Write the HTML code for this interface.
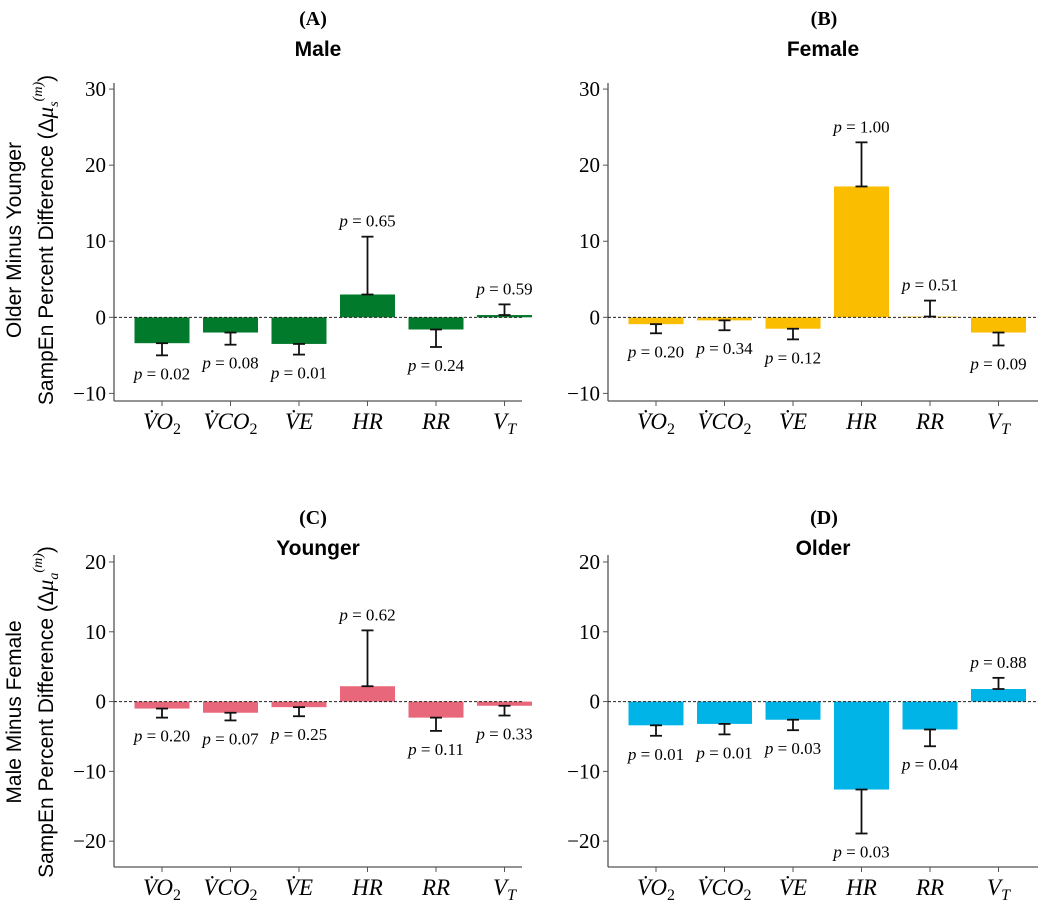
<!DOCTYPE html>
<html><head><meta charset="utf-8"><style>
html,body{margin:0;padding:0;background:#fff;}
svg{display:block;}
text{font-family:"Liberation Serif",serif;}
.sans{font-family:"Liberation Sans","DejaVu Sans",sans-serif;}
</style></head><body>
<svg id="chart" width="1052" height="903" viewBox="0 0 1052 903" xmlns="http://www.w3.org/2000/svg"></svg>
<script>
const categories = ["VO2","VCO2","VE","HR","RR","VT"];
const maleVals = [-3.4,-2.0,-3.5,3.0,-1.6,0.3];
const maleErr = [-5.0,-3.6,-4.9,10.6,-3.9,1.7];
const maleP = ["0.02","0.08","0.01","0.65","0.24","0.59"];
const femaleVals = [-0.9,-0.4,-1.5,17.2,0.1,-2.0];
const femaleErr = [-2.1,-1.7,-2.9,23.0,2.2,-3.7];
const femaleP = ["0.20","0.34","0.12","1.00","0.51","0.09"];
const youngerVals = [-1.0,-1.6,-0.8,2.2,-2.3,-0.6];
const youngerErr = [-2.3,-2.7,-2.1,10.2,-4.2,-2.0];
const youngerP = ["0.20","0.07","0.25","0.62","0.11","0.33"];
const olderVals = [-3.4,-3.2,-2.6,-12.6,-4.0,1.8];
const olderErr = [-4.9,-4.7,-4.1,-18.9,-6.4,3.4];
const olderP = ["0.01","0.01","0.03","0.03","0.04","0.88"];
const topTicks = [30,20,10,0,-10];
const botTicks = [20,10,0,-10,-20];

const svg = document.getElementById('chart');
const NS = "http://www.w3.org/2000/svg";
function mk(tag, attrs, parent){const e=document.createElementNS(NS,tag);for(const k in attrs)e.setAttribute(k,attrs[k]);(parent||svg).appendChild(e);return e;}

const xLabels = [
 ['V̇','O','2'],['V̇','CO','2'],['V̇','E',''],['','HR',''],['','RR',''],['V','','T']
];

function panel(cfg){
  const g = mk('g',{});
  
  
  const {ax, top, bottom, right, ymin, ymax} = cfg;
  const y = v => top + (ymax - v)/(ymax - ymin)*(bottom - top);
  const x0 = ax + 48, step = 68.5;
  const xc = i => x0 + i*step;
  const bw = 55;
  const L = mk('text',{x:cfg.letterX,y:cfg.letterY,'text-anchor':'middle','font-size':20,'font-weight':'bold'},g);
  L.textContent = cfg.letter;
  
  
  const T = mk('text',{x:(ax+right)/2,y:cfg.letterY+31,'text-anchor':'middle','font-size':21,'font-weight':'bold',class:'sans'},g);
  T.textContent = cfg.title;
  
  
  const ya = mk('line',{x1:ax,y1:top,x2:ax,y2:bottom,stroke:'#555','stroke-width':1.3},g);
  
  
  const xa = mk('line',{x1:ax,y1:bottom,x2:right,y2:bottom,stroke:'#555','stroke-width':1.3},g);
  
  
  cfg.ticks.forEach(t=>{
    mk('line',{x1:ax-5,y1:y(t),x2:ax,y2:y(t),stroke:'#555','stroke-width':1},g);
    const tl = mk('text',{x:ax-8,y:y(t)+7,'text-anchor':'end','font-size':21},g);
    tl.textContent = t<0 ? '\u2212'+Math.abs(t) : String(t);
    
    
  });
  cfg.vals.forEach((v,i)=>{
    const b = mk('rect',{x:xc(i)-bw/2,y:Math.min(y(v),y(0)),width:bw,height:Math.abs(y(v)-y(0)),fill:cfg.color},g);
    
    
  });
  mk('line',{x1:ax,y1:y(0),x2:right,y2:y(0),stroke:'#222','stroke-width':1,'stroke-dasharray':'3,2'},g);
  cfg.vals.forEach((v,i)=>{
    const e = cfg.err[i];
    const eg = mk('g',{stroke:'#111','stroke-width':1.8},g);
    
    
    mk('line',{x1:xc(i),y1:y(v),x2:xc(i),y2:y(e)},eg);
    mk('line',{x1:xc(i)-6,y1:y(v),x2:xc(i)+6,y2:y(v)},eg);
    mk('line',{x1:xc(i)-6,y1:y(e),x2:xc(i)+6,y2:y(e)},eg);
    const up = e > v;
    const py = up ? y(e)-10 : y(e)+24;
    const pt = mk('text',{x:xc(i),y:py,'text-anchor':'middle','font-size':17},g);
    pt.innerHTML = '<tspan font-style="italic">p</tspan> = '+cfg.p[i];
    
    
    mk('line',{x1:xc(i),y1:bottom,x2:xc(i),y2:bottom+5,stroke:'#555','stroke-width':1},g);
    const lab = xLabels[i];
    const xl = mk('text',{x:xc(i),y:bottom+28,'text-anchor':'middle','font-size':23,'font-style':'italic'},g);
    xl.innerHTML = lab[0]+lab[1]+(lab[2]?'<tspan font-size="16" dy="5" font-style="'+(lab[2]==='T'?'italic':'normal')+'">'+lab[2]+'</tspan>':'');
    
    
  });
}

panel({name:'panel-male',letter:'(A)',letterX:313,title:'Male',letterY:25,ax:114,right:522,top:83,bottom:401,ymin:-11,ymax:30.8,ticks:topTicks,vals:maleVals,err:maleErr,p:maleP,color:'#027a2c'});
panel({name:'panel-female',letter:'(B)',letterX:824,title:'Female',letterY:25,ax:608,right:1038,top:83,bottom:401,ymin:-11,ymax:30.8,ticks:topTicks,vals:femaleVals,err:femaleErr,p:femaleP,color:'#fbbd00'});
panel({name:'panel-younger',letter:'(C)',letterX:313,title:'Younger',letterY:524,ax:114,right:522,top:555,bottom:867,ymin:-23.7,ymax:21,ticks:botTicks,vals:youngerVals,err:youngerErr,p:youngerP,color:'#e8677a'});
panel({name:'panel-older',letter:'(D)',letterX:824,title:'Older',letterY:524,ax:608,right:1038,top:555,bottom:867,ymin:-23.7,ymax:21,ticks:botTicks,vals:olderVals,err:olderErr,p:olderP,color:'#00b4e8'});

function ylab(cy, l1, l2, sub, name){
  const g = mk('g',{transform:'translate(0,'+cy+') rotate(-90)'});
  
  
  const a = mk('text',{x:0,y:21,'text-anchor':'middle','font-size':21,class:'sans'},g);
  a.textContent = l1;
  const b = mk('text',{x:0,y:53,'text-anchor':'middle','font-size':21,class:'sans'},g);
  b.innerHTML = l2+' (Δ<tspan font-family="Liberation Serif" font-style="italic" font-size="23">μ</tspan><tspan font-size="14" dy="5" font-family="Liberation Serif" font-style="italic">'+sub+'</tspan><tspan font-size="14" dy="-16" font-family="Liberation Serif" font-style="italic">(m)</tspan><tspan dy="11">)</tspan>';
}
ylab(240,'Older Minus Younger','SampEn Percent Difference','s','y-axis-title-top');
ylab(712,'Male Minus Female','SampEn Percent Difference','a','y-axis-title-bottom');
</script>
</body></html>
